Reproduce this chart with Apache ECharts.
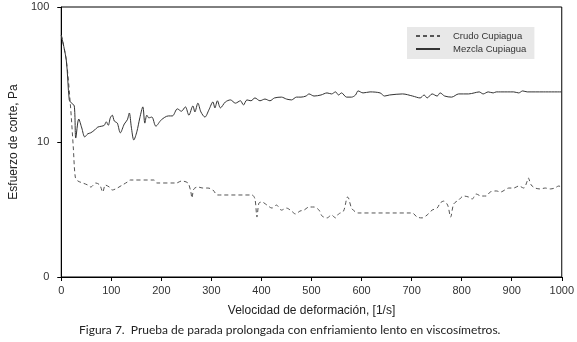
<!DOCTYPE html>
<html>
<head>
<meta charset="utf-8">
<script src="https://cdn.jsdelivr.net/npm/echarts@6/dist/echarts.min.js"></script>
<style>
  html, body { margin: 0; padding: 0; background: #fff; }
  #chart { width: 577px; height: 342px; }
</style>
</head>
<body>
<div id="chart"></div>
<script>
// shear rate [1/s], shear stress [Pa]
const crudoX = [0, 10, 18, 24, 28, 33, 43, 53, 59, 69, 77, 83, 88, 96, 102, 112, 122, 132, 138, 185, 191, 230, 240, 253, 259, 261, 265, 273, 283, 293, 303, 312, 322, 381, 387, 391, 395, 401, 411, 421, 430, 440, 450, 460, 468, 477, 485, 495, 505, 515, 521, 531, 540, 548, 554, 564, 572, 574, 580, 588, 593, 701, 711, 721, 731, 741, 751, 757, 764, 772, 778, 784, 794, 804, 814, 821, 829, 839, 849, 857, 869, 878, 886, 894, 904, 914, 924, 931, 933, 939, 947, 957, 967, 977, 986, 994, 1000];
const crudoY = [62, 40.5, 19.4, 9.2, 5.5, 5.15, 4.97, 4.8, 4.64, 4.97, 4.8, 4.26, 4.8, 4.64, 4.41, 4.56, 4.8, 5.05, 5.23, 5.23, 4.97, 4.97, 5.14, 4.97, 4.26, 3.85, 4.49, 4.64, 4.56, 4.56, 4.41, 4.05, 4.05, 4.05, 3.78, 2.78, 3.53, 3.59, 3.41, 3.24, 3.41, 3.13, 3.24, 3.08, 2.93, 3.08, 3.13, 3.3, 3.3, 3.13, 2.83, 2.74, 2.88, 2.74, 2.93, 3.08, 3.91, 3.85, 3.24, 3.03, 2.98, 2.98, 2.78, 2.74, 2.88, 3.13, 3.24, 3.53, 3.65, 3.41, 2.78, 3.47, 3.72, 3.98, 3.91, 3.78, 4.12, 3.98, 3.98, 4.26, 4.34, 4.26, 4.41, 4.56, 4.56, 4.72, 4.56, 5.14, 5.42, 4.8, 4.56, 4.49, 4.56, 4.49, 4.56, 4.72, 4.64];

const mezclaX = [0, 10, 16, 20, 26, 29, 35, 41, 47, 53, 59, 67, 73, 81, 86, 90, 94, 98, 102, 106, 112, 118, 126, 132, 136, 140, 145, 151, 157, 163, 167, 171, 175, 181, 189, 200, 214, 222, 232, 240, 248, 255, 263, 267, 273, 279, 287, 295, 303, 307, 312, 318, 328, 338, 348, 358, 364, 371, 379, 387, 397, 407, 417, 426, 440, 450, 460, 470, 479, 489, 495, 505, 519, 531, 540, 548, 554, 560, 570, 580, 588, 593, 603, 617, 637, 646, 656, 682, 702, 717, 725, 731, 741, 751, 757, 766, 780, 794, 814, 825, 835, 843, 853, 863, 869, 878, 892, 904, 914, 922, 931, 963, 1000];
const mezclaY = [62, 40.5, 20.5, 19.5, 18.5, 10.7, 14.8, 12.7, 10.9, 11.5, 11.7, 12.3, 12.9, 13.1, 13.3, 14.1, 13.3, 15.1, 15.8, 14.3, 13.8, 11.7, 13.6, 14.6, 16.4, 12.9, 10.35, 11.9, 15.1, 18.2, 13.8, 15.8, 15.1, 15.3, 13.1, 14.6, 15.6, 15.6, 17.6, 16.9, 18.2, 15.8, 18.5, 16.7, 19.4, 16.7, 15.3, 17.3, 19.8, 17.9, 20.2, 17.9, 19.8, 20.5, 19.4, 20.2, 18.8, 20.5, 20.2, 21.2, 20.2, 20.8, 20.2, 21.2, 21.5, 20.8, 20.5, 21.5, 21.5, 21.9, 22.7, 21.9, 22.3, 23.1, 22.7, 23.5, 22.3, 23.1, 21.5, 21.5, 22.3, 23.9, 23.1, 23.5, 23.1, 21.9, 22.3, 22.7, 21.9, 21.2, 22.3, 21.2, 22.7, 21.9, 23.1, 21.9, 21.5, 22.7, 22.7, 23.1, 23.5, 22.7, 23.5, 23.1, 23.5, 23.5, 23.5, 23.5, 23.1, 23.9, 23.5, 23.5, 23.5];

const xTicks = [0, 100, 200, 300, 400, 500, 600, 700, 800, 900, 1000];
const seriesNames = ["Crudo Cupiagua", "Mezcla Cupiagua"];
const xTitle = "Velocidad de deformación, [1/s]";
const yTitle = "Esfuerzo de corte, Pa";
const caption = "Figura 7.  Prueba de parada prolongada con enfriamiento lento en viscosímetros.";

const pairs = (xs, ys) => xs.map((x, i) => [x, ys[i]]);

const chart = echarts.init(document.getElementById("chart"), undefined, { renderer: "canvas" });
const labelFont = { color: "#333", fontSize: 11, fontFamily: "Liberation Sans" };

chart.setOption({
  backgroundColor: "#fff",
  animation: false,
  grid: {
    left: 53, right: 15, top: 7, bottom: 65,
    show: true, borderColor: "#000", borderWidth: 1, backgroundColor: "transparent",
  },
  legend: {
    data: seriesNames,
    orient: "vertical",
    left: 407, top: 27,
    backgroundColor: "#e8e8e8",
    padding: [4, 8, 5, 8],
    itemGap: 3,
    itemWidth: 24, itemHeight: 9,
    itemStyle: { opacity: 0 },
    textStyle: { color: "#333", fontSize: 9.5, fontFamily: "Liberation Sans", padding: [0, 0, 0, 8] },
  },
  xAxis: {
    type: "value",
    min: xTicks[0], max: xTicks[xTicks.length - 1], interval: 100,
    name: xTitle,
    nameLocation: "middle",
    nameGap: 28,
    nameTextStyle: { color: "#222", fontSize: 12, fontFamily: "Liberation Sans" },
    axisLine: { lineStyle: { color: "#000", width: 1 } },
    axisTick: { show: true, length: 4, lineStyle: { color: "#000" } },
    axisLabel: { ...labelFont, margin: 8, formatter: (v) => String(v) },
    splitLine: { show: false },
  },
  yAxis: {
    type: "log",
    logBase: 10,
    min: 1, max: 100,
    name: yTitle,
    nameLocation: "middle",
    nameGap: 40,
    nameTextStyle: { color: "#222", fontSize: 12, fontFamily: "Liberation Sans" },
    axisLine: { show: true, lineStyle: { color: "#000", width: 1 } },
    axisTick: { show: true, length: 4, lineStyle: { color: "#000" } },
    axisLabel: { ...labelFont, margin: 12, formatter: (v) => (v === 1 ? "0" : String(v)) },
    splitLine: { show: false },
    minorTick: { show: false },
  },
  series: [
    {
      name: seriesNames[0],
      type: "line",
      data: pairs(crudoX, crudoY),
      symbol: "none",
      smooth: 0.3,
      lineStyle: { color: "#555", width: 1, type: [4, 3] },
      itemStyle: { color: "#555" },
    },
    {
      name: seriesNames[1],
      type: "line",
      data: pairs(mezclaX, mezclaY),
      symbol: "none",
      smooth: 0.3,
      lineStyle: { color: "#333", width: 1 },
      itemStyle: { color: "#333" },
    },
  ],
  graphic: [
    {
      type: "text",
      left: 79,
      top: 324,
      style: { text: caption, fill: "#222", fontSize: 12, fontFamily: "Lato" },
    },
  ],
});
</script>
</body>
</html>
